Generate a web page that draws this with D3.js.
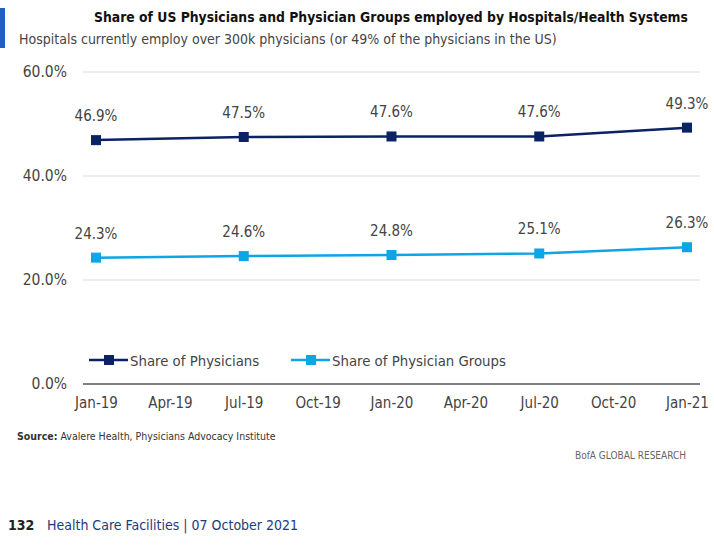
<!DOCTYPE html>
<html><head><meta charset="utf-8">
<script src="https://cdn.jsdelivr.net/npm/d3@7"></script>
<style>
body{margin:0;background:#fff;}
svg{display:block;}
text{font-family:"Liberation Sans Narrow","DejaVu Sans Condensed","Roboto",sans-serif;}
</style></head>
<body>
<svg id="c" width="714" height="547"></svg>
<script>
const categories = ["Jan-19","Apr-19","Jul-19","Oct-19","Jan-20","Apr-20","Jul-20","Oct-20","Jan-21"];
const pointDates = ["Jan-19","Jul-19","Jan-20","Jul-20","Jan-21"];
const physicians = [46.9, 47.5, 47.6, 47.6, 49.3];
const physicianGroups = [24.3, 24.6, 24.8, 25.1, 26.3];
const yTicks = [0, 20, 40, 60];
const seriesNames = ["Share of Physicians","Share of Physician Groups"];
const colors = ["#0b2265","#0ea5e6"];

const svg = d3.select("#c");
const x = d3.scalePoint().domain(categories).range([96, 687]);
const y = d3.scaleLinear().domain([0, 60]).range([384, 72]);

// title block
svg.append("rect").attr("x",0).attr("y",8).attr("width",5).attr("height",40).attr("fill","#1f5fc6");
svg.append("text").attr("x",391).attr("y",22).attr("text-anchor","middle")
  .attr("font-size",13.8).attr("font-weight","bold").attr("fill","#111")
  .text("Share of US Physicians and Physician Groups employed by Hospitals/Health Systems");
svg.append("text").attr("x",19).attr("y",44).attr("font-size",14).attr("fill","#444")
  .text("Hospitals currently employ over 300k physicians (or 49% of the physicians in the US)");

// gridlines
const grid = svg.append("g");
grid.selectAll("line").data(yTicks.filter(d=>d>0)).join("line")
  .attr("x1",83).attr("x2",700).attr("y1",d=>y(d)).attr("y2",d=>y(d))
  .attr("stroke","#d9d9d9").attr("stroke-width",1.2);
svg.append("line").attr("x1",83).attr("x2",700).attr("y1",y(0)).attr("y2",y(0))
  .attr("stroke","#7f7f7f").attr("stroke-width",2);

// y axis labels
const yAxis = d3.axisLeft(y).tickValues(yTicks).tickFormat(d=>d.toFixed(1)+"%").tickSize(0).tickPadding(0);
const yg = svg.append("g").attr("transform","translate(67,0)").call(yAxis);
yg.select(".domain").remove();
yg.selectAll("text").attr("font-size",15.5).attr("fill","#444").style("font-family",'"Liberation Sans Narrow","DejaVu Sans Condensed",sans-serif');

// x axis labels
const xAxis = d3.axisBottom(x).tickSize(0).tickPadding(0);
const xg = svg.append("g").attr("transform","translate(0,397)").call(xAxis);
xg.select(".domain").remove();
xg.selectAll("text").attr("font-size",15).attr("fill","#444").attr("dy","0.71em").style("font-family",'"Liberation Sans Narrow","DejaVu Sans Condensed",sans-serif');

// series
const series = [physicians, physicianGroups];
const line = d3.line().x((d,i)=>x(pointDates[i])).y(d=>y(d));
series.forEach((vals,si)=>{
  const g = svg.append("g");
  g.append("path").datum(vals).attr("d",line).attr("fill","none")
    .attr("stroke",colors[si]).attr("stroke-width",2.5);
  g.selectAll("rect").data(vals).join("rect")
    .attr("x",(d,i)=>x(pointDates[i])-5).attr("y",d=>y(d)-5)
    .attr("width",10).attr("height",10).attr("fill",colors[si]);
  g.selectAll("text").data(vals).join("text")
    .attr("x",(d,i)=>x(pointDates[i])).attr("y",d=>y(d)-19)
    .attr("text-anchor","middle").attr("font-size",15).attr("fill","#444")
    .text(d=>d.toFixed(1)+"%");
});

// legend
const legX = [89, 291];
seriesNames.forEach((n,i)=>{
  const g = svg.append("g").attr("transform",`translate(${legX[i]},360)`);
  g.append("line").attr("x1",0).attr("x2",39).attr("stroke",colors[i]).attr("stroke-width",2.5);
  g.append("rect").attr("x",15).attr("y",-5).attr("width",10).attr("height",10).attr("fill",colors[i]);
  g.append("text").attr("x",41).attr("y",5.5).attr("font-size",14.8).attr("fill","#444").text(n);
});

// footer
const src = svg.append("text").attr("x",17).attr("y",440).attr("font-size",10.5).attr("fill","#333");
src.append("tspan").attr("font-weight","bold").text("Source:");
src.append("tspan").text("  Avalere Health, Physicians  Advocacy Institute");
svg.append("text").attr("x",686).attr("y",459).attr("text-anchor","end").attr("font-size",10).attr("fill","#666")
  .text("BofA GLOBAL RESEARCH");
svg.append("text").attr("x",8).attr("y",530).attr("font-size",14).attr("font-weight","bold").attr("fill","#222").text("132");
svg.append("text").attr("x",47).attr("y",530).attr("font-size",14).attr("fill","#1b3a7a").text("Health Care Facilities | 07 October 2021");
</script>
</body></html>
